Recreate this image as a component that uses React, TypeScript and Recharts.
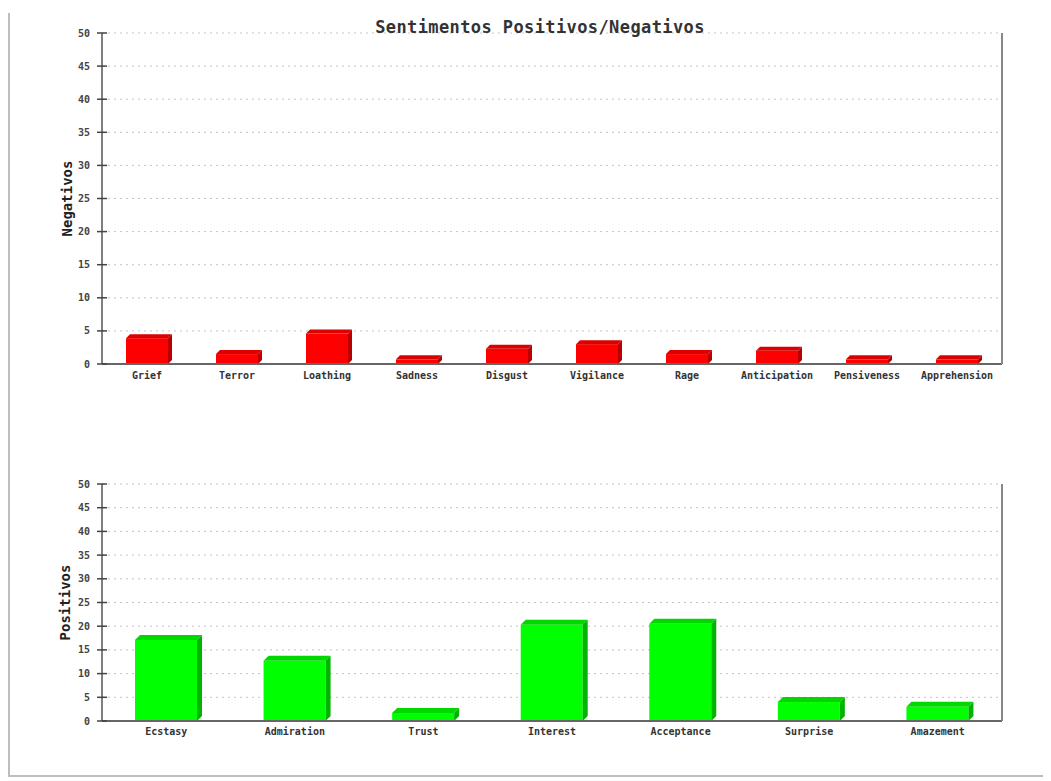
import React from 'react'
import { BarChart, Bar, XAxis, YAxis, CartesianGrid } from 'recharts'

// Plutchik sentiment counts
const NEG_CATEGORIES = ['Grief', 'Terror', 'Loathing', 'Sadness', 'Disgust', 'Vigilance', 'Rage', 'Anticipation', 'Pensiveness', 'Apprehension']
const NEG_VALUES = [3.9, 1.5, 4.6, 0.7, 2.3, 3.0, 1.5, 2.0, 0.7, 0.7]

const POS_CATEGORIES = ['Ecstasy', 'Admiration', 'Trust', 'Interest', 'Acceptance', 'Surprise', 'Amazement']
const POS_VALUES = [17.1, 12.7, 1.7, 20.3, 20.5, 4.0, 3.0]

const Y_TICKS = [0, 5, 10, 15, 20, 25, 30, 35, 40, 45, 50]

const TITLE = 'Sentimentos Positivos/Negativos'
const MONO = '"DejaVu Sans Mono", monospace'
const Y_TICK_MARGIN = 12

const RED = { front: '#ff0000', top: '#dd0000', side: '#b80000' }
const GREEN = { front: '#00ff00', top: '#00d800', side: '#00b400' }

function Bar3D(props: any) {
  const { x, y, width, height, depth, colors } = props
  if (!height || height <= 0) return null
  const d = depth
  const top = `${x},${y} ${x + d},${y - d} ${x + width + d},${y - d} ${x + width},${y}`
  const side = `${x + width},${y} ${x + width + d},${y - d} ${x + width + d},${y + height - d} ${x + width},${y + height}`
  return (
    <g>
      <rect x={x} y={y} width={width} height={height} fill={colors.front} />
      <polygon points={top} fill={colors.top} />
      <polygon points={side} fill={colors.side} />
    </g>
  )
}

function YTick(props: any) {
  const { x, y, payload } = props
  const ax = x + Y_TICK_MARGIN
  return (
    <g>
      <line x1={ax - 5} x2={ax + 5} y1={y} y2={y} stroke="#444" strokeWidth={1.5} />
      <text x={x} y={y} dy={3.5} textAnchor="end" fontFamily={MONO} fontSize={10} fontWeight="bold" fill="#444">
        {payload.value}
      </text>
    </g>
  )
}

function AxisTitle({ viewBox, value, offsetX }: any) {
  const cx = viewBox.x + offsetX
  const cy = viewBox.y + viewBox.height / 2
  return (
    <text
      x={cx}
      y={cy}
      transform={`rotate(-90, ${cx}, ${cy})`}
      textAnchor="middle"
      dominantBaseline="central"
      fontFamily={MONO}
      fontSize={14}
      fontWeight="bold"
      fill="#222"
    >
      {value}
    </text>
  )
}

function SentimentChart({
  categories,
  values,
  title,
  titleX,
  colors,
  height,
  marginTop,
  barSize,
  depth,
  labelGap,
}: {
  categories: string[]
  values: number[]
  title: string
  titleX: number
  colors: { front: string; top: string; side: string }
  height: number
  marginTop: number
  barSize: number
  depth: number
  labelGap: number
}) {
  const data = categories.map((name, i) => ({ name, value: values[i] }))
  return (
    <BarChart width={1000} height={height} data={data} margin={{ top: marginTop, right: 5, bottom: 0, left: 0 }}>
      <CartesianGrid yAxisId="l" vertical={false} stroke="#c4c4c4" strokeDasharray="2 4" />
      <XAxis
        dataKey="name"
        height={30}
        interval={0}
        tickLine={false}
        tickSize={0}
        tickMargin={labelGap}
        axisLine={{ stroke: '#666', strokeWidth: 2 }}
        tick={{ fontFamily: MONO, fontSize: 10, fontWeight: 'bold', fill: '#333' }}
      />
      <YAxis
        yAxisId="l"
        width={94}
        type="number"
        domain={[0, 50]}
        ticks={Y_TICKS}
        interval={0}
        tickLine={false}
        tickSize={0}
        tickMargin={Y_TICK_MARGIN}
        axisLine={{ stroke: '#555', strokeWidth: 1.5 }}
        tick={<YTick />}
        label={<AxisTitle value={title} offsetX={titleX} />}
      />
      <YAxis
        yAxisId="r"
        orientation="right"
        width={1}
        type="number"
        domain={[0, 50]}
        tick={false}
        tickLine={false}
        axisLine={{ stroke: '#888', strokeWidth: 2 }}
      />
      <Bar
        yAxisId="l"
        dataKey="value"
        barSize={barSize}
        isAnimationActive={false}
        shape={(p: any) => <Bar3D {...p} depth={depth} colors={colors} />}
      />
    </BarChart>
  )
}

export default function App() {
  return (
    <div style={{ position: 'relative', width: 1043, height: 770 }}>
      <div
        style={{
          position: 'absolute',
          left: 0,
          top: 5,
          width: 1043,
          height: 764,
          boxSizing: 'border-box',
          borderLeft: '2px solid #bdbdbd',
          borderBottom: '2px solid #bdbdbd',
        }}
      />
      <div
        style={{
          position: 'absolute',
          left: 282,
          top: 10,
          width: 500,
          height: 18,
          lineHeight: '18px',
          textAlign: 'center',
          fontFamily: MONO,
          fontSize: 17,
          fontWeight: 'bold',
          letterSpacing: 0.4,
          color: '#333',
          zIndex: 2,
        }}
      >
        {TITLE}
      </div>
      <div style={{ position: 'absolute', left: 0, top: 0 }}>
        <SentimentChart
          categories={NEG_CATEGORIES}
          values={NEG_VALUES}
          title="Negativos"
          titleX={59}
          colors={RED}
          height={386}
          marginTop={25}
          barSize={42}
          depth={4}
          labelGap={8}
        />
      </div>
      <div style={{ position: 'absolute', left: 0, top: 460 }}>
        <SentimentChart
          categories={POS_CATEGORIES}
          values={POS_VALUES}
          title="Positivos"
          titleX={57}
          colors={GREEN}
          height={283}
          marginTop={16}
          barSize={62}
          depth={5}
          labelGap={7}
        />
      </div>
    </div>
  )
}
